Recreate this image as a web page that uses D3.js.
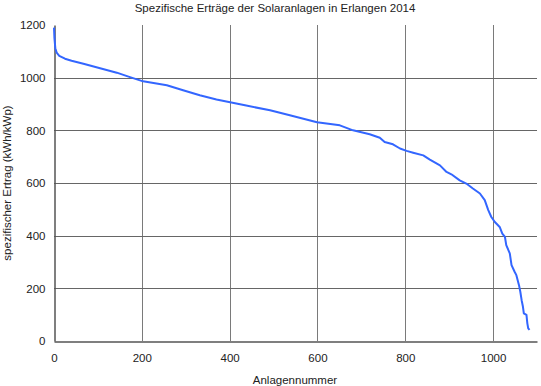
<!DOCTYPE html>
<html>
<head>
<meta charset="utf-8">
<script src="https://cdn.jsdelivr.net/npm/d3@7"></script>
<style>
  body { margin: 0; background: #fff; }
  text { font-family: "Liberation Sans", Arial, sans-serif; fill: #222; }
</style>
</head>
<body>
<svg id="chart" width="541" height="386"></svg>
<script>
// values
const anlagenNummer = [0, 1, 3, 6, 12, 25, 40, 67, 105, 143, 173, 203, 257, 294, 332, 370, 401, 435, 492, 537, 599, 651, 681, 719, 742, 753, 772, 788, 803, 818, 841, 856, 879, 894, 905, 924, 939, 954, 970, 981, 989, 996, 1004, 1015, 1021, 1027, 1030, 1038, 1042, 1049, 1053, 1059, 1062, 1065, 1068, 1070, 1076, 1078, 1080, 1083]
const ertrag = [1190, 1150, 1112, 1095, 1083, 1072, 1064, 1053, 1036, 1019, 1002, 986, 971, 952, 933, 917, 907, 895, 876, 857, 831, 819, 800, 785, 772, 756, 747, 731, 722, 715, 705, 689, 667, 642, 633, 610, 598, 579, 560, 535, 497, 471, 452, 433, 408, 395, 364, 333, 288, 263, 250, 212, 187, 155, 130, 105, 99, 67, 48, 42]
const xTicks = [0, 200, 400, 600, 800, 1000]
const yTicks = [0, 200, 400, 600, 800, 1000, 1200]

const title = "Spezifische Erträge der Solaranlagen in Erlangen 2014"
const xLabel = "Anlagennummer"
const yLabel = "spezifischer Ertrag (kWh/kWp)"

const margin = {left: 54, top: 25, right: 4, bottom: 45}
const width = 541, height = 386

const svg = d3.select("#chart")

let x = d3.scaleLinear().domain([0, 1100]).range([margin.left, width - margin.right])
let y = d3.scaleLinear().domain([0, 1200]).range([height - margin.bottom, margin.top])

// gridlines
svg.append("g")
  .selectAll("line")
  .data(xTicks.filter(d => d > 0))
  .join("line")
  .attr("x1", d => Math.round(x(d)) + 0.5)
  .attr("x2", d => Math.round(x(d)) + 0.5)
  .attr("y1", y(1200))
  .attr("y2", y(0))
  .attr("stroke", "#7a7a7a")

svg.append("g")
  .selectAll("line")
  .data(yTicks.filter(d => d > 0 && d < 1200))
  .join("line")
  .attr("x1", x(0))
  .attr("x2", x(1100))
  .attr("y1", d => Math.round(y(d)) + 0.5)
  .attr("y2", d => Math.round(y(d)) + 0.5)
  .attr("stroke", "#666")

// axes
let xAxis = d3.axisBottom(x).tickValues(xTicks).tickFormat(d3.format("d")).tickSize(0).tickPadding(12)
let yAxis = d3.axisLeft(y).tickValues(yTicks).tickFormat(d3.format("d")).tickSize(0).tickPadding(9)

let xAxisGroup = svg.append("g")
  .attr("transform", `translate(0, ${Math.round(y(0)) + 0.5})`)
  .call(xAxis)
let yAxisGroup = svg.append("g")
  .attr("transform", `translate(${Math.round(x(0)) + 0.5}, 0)`)
  .call(yAxis)

;[xAxisGroup, yAxisGroup].forEach(g => {
  g.select(".domain").attr("stroke", "#555").attr("stroke-width", 1.5)
  g.selectAll("text").style("font-size", "11.5px").attr("fill", "#222")
})

// curve
let line = d3.line()
  .x((d, i) => x(anlagenNummer[i]))
  .y(d => y(d))

svg.append("path")
  .datum(ertrag)
  .attr("d", line)
  .attr("fill", "none")
  .attr("stroke", "#3366ff")
  .attr("stroke-width", 2)
  .attr("stroke-linejoin", "round")

// texts
svg.append("text")
  .attr("x", 275)
  .attr("y", 12)
  .attr("text-anchor", "middle")
  .style("font-size", "11.5px")
  .text(title)

svg.append("text")
  .attr("x", 295)
  .attr("y", 384)
  .attr("text-anchor", "middle")
  .style("font-size", "11.5px")
  .text(xLabel)

svg.append("text")
  .attr("transform", `translate(11, ${(y(0) + y(1200)) / 2}) rotate(-90)`)
  .attr("text-anchor", "middle")
  .style("font-size", "11.5px")
  .text(yLabel)
</script>
</body>
</html>
